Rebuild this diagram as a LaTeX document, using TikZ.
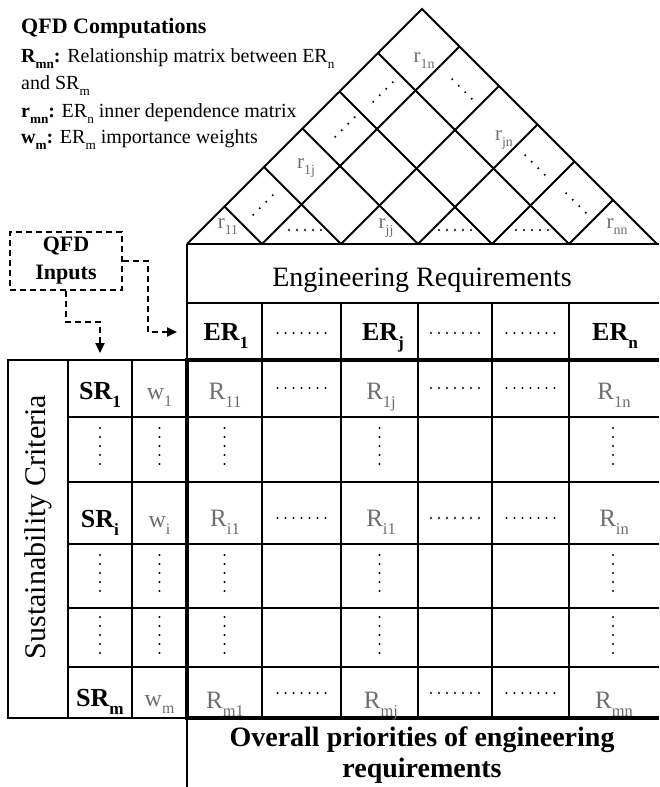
\documentclass[tikz,border=0pt]{standalone}
\usepackage{fontspec}
\setmainfont{Liberation Serif}
\usetikzlibrary{arrows.meta}
\newcommand\sbs[1]{\raisebox{-0.33em}{\scalebox{0.66}{#1}}}
\definecolor{lbl}{HTML}{6E6E6E}
\tikzset{
  grid/.style={line width=1.8pt},
  heavy/.style={line width=4pt},
  txt/.style={inner sep=0pt, anchor=base},
  rlab/.style={txt, text=lbl, font=\fontsize{25}{30}\selectfont},
  wlab/.style={txt, text=lbl, font=\fontsize{24}{28}\selectfont},
  rooflab/.style={txt, text=lbl, font=\fontsize{21}{25}\selectfont},
  hdr/.style={txt, font=\bfseries\fontsize{26}{30}\selectfont},
  desc/.style={inner sep=0pt, anchor=base west, font=\fontsize{20}{24}\selectfont},
  dashline/.style={line width=1.8pt, dash pattern=on 6pt off 4pt},
  tipstyle/.style={-{Triangle[length=10pt,width=9pt]}},
  dotfill/.style={fill=black}
}
\newcommand\hdotrow[3]{% x center, y, count
  \foreach \k in {1,...,#3} \fill[dotfill] ({#1+8*(\k-(#3+1)/2)},#2) circle (1.15pt);}
\newcommand\vdotcol[2]{%
  \foreach \k in {-2,...,2} \fill[dotfill] (#1,{#2+9*\k}) circle (1.15pt);}
\newcommand\dotsup[2]{%
  \foreach \k in {-1.5,-0.5,0.5,1.5} \fill[dotfill] ({#1+6.5*\k},{#2-6.5*\k}) circle (1.15pt);}
\newcommand\dotsdown[2]{%
  \foreach \k in {-1.5,-0.5,0.5,1.5} \fill[dotfill] ({#1+6.5*\k},{#2+6.5*\k}) circle (1.15pt);}
\begin{document}
\begin{tikzpicture}[x=1pt,y=-1pt]
\useasboundingbox (0,0) rectangle (659,787);

% ---------- legend ----------
\node[inner sep=0pt, anchor=base west, font=\bfseries\fontsize{22}{26}\selectfont] (title) at (21,33) {QFD Computations};
\node[desc] (d1) at (21,62) {\textbf{R\sbs{mn}:} Relationship matrix between ER\sbs{n}};
\node[desc] (d2) at (21,89) {and SR\sbs{m}};
\node[desc] (d3) at (21,117) {\textbf{r\sbs{mn}:} ER\sbs{n} inner dependence matrix};
\node[desc] (d4) at (21,143) {\textbf{w\sbs{m}:} ER\sbs{m} importance weights};

% ---------- roof ----------
\coordinate (rl) at (187,244);
\coordinate (rr) at (657,244);
\coordinate (apex) at (422,9);
\draw[grid, line join=miter] (rl) -- (apex) -- (rr);
\foreach \b in {262,341,418,492,569} {
  \draw[grid] (\b,244) -- ({\b+(657-\b)/2},{244-(657-\b)/2});
  \draw[grid] (\b,244) -- ({\b-(\b-187)/2},{244-(\b-187)/2});
}
\node[rooflab] (r11) at (228,228) {r\sbs{11}};
\node[rooflab] (rjj) at (386,228) {r\sbs{jj}};
\node[rooflab] (rnn) at (617,228) {r\sbs{nn}};
\node[rooflab] (r1j) at (306,168) {r\sbs{1j}};
\node[rooflab] (r1n) at (424,62) {r\sbs{1n}};
\node[rooflab] (rjn) at (504,140) {r\sbs{jn}};
\hdotrow{305}{230}{5}
\hdotrow{455}{230}{5}
\hdotrow{532}{230}{5}
\dotsup{263}{205}
\dotsup{345}{127}
\dotsup{383}{92}
\dotsdown{462}{89}
\dotsdown{535}{165}
\dotsdown{576}{203}

% ---------- engineering requirements ----------
\draw[grid] (187,244) -- (659,244);
\draw[grid] (187,303) -- (659,303);
\draw[grid] (187,244) -- (187,360);
\draw[grid] (187,718) -- (187,787);
\node[txt, font=\fontsize{28}{32}\selectfont] (ereq) at (422,286) {Engineering Requirements};
\foreach \x in {262,341,418,492,569} \draw[grid] (\x,303) -- (\x,718);
\node[hdr] (er1) at (226,340) {ER\sbs{1}};
\node[hdr] (erj) at (383,340) {ER\sbs{j}};
\node[hdr] (ern) at (615,340) {ER\sbs{n}};
\hdotrow{301.5}{333}{7}
\hdotrow{455}{333}{7}
\hdotrow{530.5}{333}{7}

% ---------- left table ----------
\draw[grid] (8,360) rectangle (187,718);
\draw[grid] (68,360) -- (68,718);
\draw[grid] (132,360) -- (132,718);
\foreach \y in {417,482,544,608,667} \draw[grid] (68,\y) -- (659,\y);
\node[rotate=90, inner sep=0pt, font=\fontsize{30}{34}\selectfont] (sc) at (38,527) {Sustainability Criteria};

% heavy frame of relationship matrix
\draw[heavy] (187,360) -- (659,360);
\draw[heavy] (187,718) -- (659,718);
\draw[heavy] (187,358) -- (187,720);

% row 1
\node[hdr] (sr1) at (100,399) {SR\sbs{1}};
\node[wlab] (w1) at (159.5,399) {w\sbs{1}};
\node[rlab] (R11) at (225,399) {R\sbs{11}};
\node[rlab] (R1j) at (381,399) {R\sbs{1j}};
\node[rlab] (R1n) at (614,399) {R\sbs{1n}};
\hdotrow{301.5}{388}{7}
\hdotrow{455}{388}{7}
\hdotrow{530.5}{388}{7}
% row 3
\node[hdr] (sri) at (100,527) {SR\sbs{i}};
\node[wlab] (wi) at (159.5,527) {w\sbs{i}};
\node[rlab] (Ri1) at (225,526) {R\sbs{i1}};
\node[rlab] (Ri1b) at (381,526) {R\sbs{i1}};
\node[rlab] (Rin) at (614,526) {R\sbs{in}};
\hdotrow{301.5}{518}{7}
\hdotrow{455}{518}{7}
\hdotrow{530.5}{518}{7}
% row 6
\node[hdr] (srm) at (100,706) {SR\sbs{m}};
\node[wlab] (wm) at (159.5,706) {w\sbs{m}};
\node[rlab] (Rm1) at (225,708) {R\sbs{m1}};
\node[rlab] (Rmj) at (381,708) {R\sbs{mj}};
\node[rlab] (Rmn) at (614,708) {R\sbs{mn}};
\hdotrow{301.5}{693}{7}
\hdotrow{455}{693}{7}
\hdotrow{530.5}{693}{7}
% vertical dot rows
\foreach \yy in {446,573,635} {
  \foreach \xx in {100,159.5,224.5,379.5,613} {\vdotcol{\xx}{\yy}}
}

% ---------- bottom ----------
\node[txt, font=\bfseries\fontsize{28}{32}\selectfont] (ov1) at (422,746) {Overall priorities of engineering};
\node[txt, font=\bfseries\fontsize{28}{32}\selectfont] (ov2) at (422,777) {requirements};

% ---------- QFD inputs ----------
\node[draw, dashline, minimum width=112pt, minimum height=58pt, inner sep=0pt,
      align=center, font=\bfseries\fontsize{22}{28}\selectfont] (inputs) at (66,261) {QFD\\Inputs};
\coordinate (bend1) at (148,332);
\coordinate (tip1) at (177,332);
\coordinate (bend2) at (100,322);
\coordinate (tip2) at (100,353);
\draw[dashline, tipstyle] (inputs.east) -| (bend1) -- (tip1);
\draw[dashline, tipstyle] (inputs.south) |- (bend2) -- (tip2);
\end{tikzpicture}
\end{document}
